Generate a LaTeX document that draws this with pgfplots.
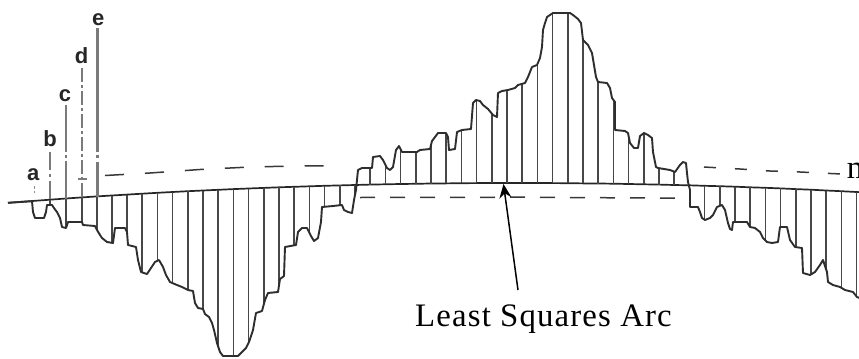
\documentclass[border=0pt]{standalone}
\usepackage{pgfplots}
\pgfplotsset{compat=1.18}
\usepackage{pgfplotstable}
\usepackage{fontspec}
\setmainfont{Liberation Serif}
\newfontfamily\labelfont{Liberation Sans}
\newfontfamily\arcfont[LetterSpace=3.5]{Liberation Serif}
\usetikzlibrary{arrows.meta}

% Measured surface profile (x along the trace, y = height, screen units, downward positive)
\pgfplotstableread{
x y
8 202.8
32 201.2
33 212
35 218
44 218
46 212
47 205
52 205
54 208
57 212
60 218
62 227
66 228
68 222
82 222
83 225
95 226
97 230
100 235
102 238
107 242
113 243
115 228
125 228
127 232
128 245
136 247
138 260
141 272
147 274
151 268
155 262
159 260
163 267
166 275
170 282
177 285
182 287
188 290
193 291
195 303
198 308
203 309
205 314
209 317
212 323
214 330
217 343
220 352
223 356
238 356
242 352
246 348
249 342
253 330
256 313
262 311
265 300
268 293
278 292
280 279
284 276
285 247
296 245
298 232
302 228
307 228
311 236
314 241
318 238
321 222
322 207
333 206
342 205
344 210
348 212
352 213
354 200
356 190
358 170
362 168
372 168
373 157
380 156
383 160
387 168
390 170
393 167
396 150
399 146
402 152
417 152
420 150
430 149
432 141
435 137
438 133
446 133
448 137
449 150
455 149
457 132
462 130
471 129
473 103
476 100
480 101
483 105
488 109
493 115
497 117
498 93
502 91
508 90
515 88
518 85
525 83
528 77
532 67
537 65
540 58
542 47
543 30
545 23
547 17
553 13
570 13
573 15
578 19
581 23
583 40
588 45
592 53
594 65
596 77
598 82
607 83
610 88
612 98
615 102
615 130
625 131
628 133
630 143
634 148
638 148
640 136
644 133
648 135
652 138
653 152
656 167
658 168
670 170
675 172
680 165
683 162
686 163
687 173
688 182
690 190
690 207
698 207
700 212
702 218
705 220
710 218
713 215
717 207
722 205
725 210
728 223
730 229
732 230
733 222
747 222
750 227
755 228
760 232
763 238
767 242
772 243
778 242
780 227
787 227
790 240
795 247
802 248
803 273
810 275
815 272
820 265
823 260
827 272
828 282
833 285
840 287
845 290
853 292
857 297
862 299
}\profile

% Ordinates: from the least squares arc (base) to the profile (top)
\pgfplotstableread{
x base top
50 199.7 205
66 198.5 227.6
82 197.4 222
97 196.4 230
111.8 195.5 242.8
127 194.6 232
142.2 193.7 272.4
157.4 192.8 260.8
172.6 192.0 283.1
187.8 191.2 289.9
203.0 190.5 309
218.2 189.8 346.6
233.4 189.1 356
248.6 188.5 342.8
263.8 187.9 304.4
279.0 187.3 285.5
294.2 186.8 245.3
309.4 186.3 232.8
324.6 185.8 206.8
339.8 185.4 205.2
355.0 185.0 195
370.2 184.6 168
385.4 184.3 164.8
400.6 184.0 149.2
415.8 183.8 152
431.0 183.5 145
446.2 183.4 133.4
461.4 183.2 130.2
476.6 183.1 100.2
491.8 183.0 113.6
507.0 183.0 90.2
522.2 183.0 83.6
537.4 183.0 64
552.6 183.1 13
567.8 183.2 13
583.0 183.4 40
598.2 183.5 82
613.4 183.7 100
628.6 184.0 136
643.8 184.3 133
659.0 184.6 168.2
674.2 185.0 171.7
689.4 185.3 187.6
704.6 185.8 219.7
719.8 186.2 205.9
735.0 186.7 222
750.2 187.3 227
765.4 187.8 240.4
780.6 188.4 227
795.8 189.1 247.1
811.0 189.7 274.4
826.2 190.5 269.6
841.4 191.2 287.8
856.6 192.0 296.5
}\ordinates

\begin{document}
\begin{tikzpicture}
\begin{axis}[
  width=429.5pt, height=179.5pt, scale only axis,
  xmin=0, xmax=859, ymin=0, ymax=359, y dir=reverse,
  hide axis, clip=false,
]
% least squares arc
\addplot[black!85, line width=0.85pt, mark=none] coordinates {
  (8,202.8) (50,199.7) (66,198.5) (82,197.4) (97,196.4) (111.8,195.5) (127,194.6)
  (142.2,193.7) (157.4,192.8) (172.6,192.0) (187.8,191.2) (203,190.5) (218.2,189.8)
  (233.4,189.1) (248.6,188.5) (263.8,187.9) (279,187.3) (294.2,186.8) (309.4,186.3)
  (324.6,185.8) (339.8,185.4) (355,185.0) (370.2,184.6) (385.4,184.3) (400.6,184.0)
  (415.8,183.8) (431,183.5) (446.2,183.4) (461.4,183.2) (476.6,183.1) (491.8,183.0)
  (507,183.0) (522.2,183.0) (537.4,183.0) (552.6,183.1) (567.8,183.2) (583,183.4)
  (598.2,183.5) (613.4,183.7) (628.6,184.0) (643.8,184.3) (659,184.6) (674.2,185.0)
  (689.4,185.3) (704.6,185.8) (719.8,186.2) (735,186.7) (750.2,187.3) (765.4,187.8)
  (780.6,188.4) (795.8,189.1) (811,189.7) (826.2,190.5) (841.4,191.2) (856.6,192.0)
  (862,192.3)};
% ordinates
\addplot[black!72, line width=0.8pt, mark=none,
  quiver={u=0, v=\thisrow{top}-\thisrow{base}}] table[x=x, y=base] {\ordinates};
% profile
\addplot[black!82, line width=0.95pt, mark=none, line join=round] table[x=x, y=y] {\profile};
% mean lines of peaks and valleys
\addplot[black!78, line width=0.75pt, mark=none, dash pattern=on 9.5pt off 10.5pt]
  coordinates {(105,175.5) (150,173) (200,169.5) (240,167.5) (280,166.3) (328,165.7)};
\addplot[black!78, line width=0.75pt, mark=none, dash pattern=on 6pt off 9.5pt]
  coordinates {(704,167) (740,169) (770,171) (800,172) (841,174)};
\addplot[black!78, line width=0.75pt, mark=none, dash pattern=on 7.5pt off 7.5pt]
  coordinates {(360,197.5) (520,197.2) (678,198.2)};
% height markers a--e
\addplot[black!45, line width=0.9pt, mark=none, dash pattern=on 1.5pt off 1pt]
  coordinates {(34.5,186) (34.5,193)};
\addplot[black!52, line width=1.05pt, mark=none, dash pattern=on 9pt off 2pt on 1.5pt off 2pt]
  coordinates {(50,152) (50,200)};
\addplot[black!52, line width=1.05pt, mark=none, dash pattern=on 23.5pt off 1.5pt on 1.5pt off 1.5pt]
  coordinates {(66,105) (66,199)};
\addplot[black!52, line width=1.05pt, mark=none, dash pattern=on 7pt off 1.5pt on 1.5pt off 1.5pt]
  coordinates {(82,68) (82,198)};
\addplot[black!52, line width=0.9pt, mark=none] coordinates {(78,179) (87,179)};
\addplot[black!52, line width=1.05pt, mark=none, dash pattern=on 62pt off 1.5pt on 1.5pt off 2pt]
  coordinates {(97.5,28) (97.5,197)};
\node[font=\labelfont\bfseries\fontsize{11}{12}\selectfont, text=black!85, anchor=base] at (axis cs:33.3,180) {a};
\node[font=\labelfont\bfseries\fontsize{11}{12}\selectfont, text=black!85, anchor=base] at (axis cs:50,146.7) {b};
\node[font=\labelfont\bfseries\fontsize{11}{12}\selectfont, text=black!85, anchor=base] at (axis cs:65,101.7) {c};
\node[font=\labelfont\bfseries\fontsize{11}{12}\selectfont, text=black!85, anchor=base] at (axis cs:81.7,63.3) {d};
\node[font=\labelfont\bfseries\fontsize{11}{12}\selectfont, text=black!85, anchor=base] at (axis cs:98.3,25) {e};
% annotation
\addplot[black, line width=0.75pt, mark=none, -{Stealth[length=7pt, width=6pt]}]
  coordinates {(518,290) (503.5,184)};
\node[font=\arcfont\fontsize{16.4}{19}\selectfont, anchor=base] at (axis cs:543.5,326.7) {Least Squares Arc};
\node[font=\fontsize{16.4}{19}\selectfont, anchor=base west, inner sep=0pt] at (axis cs:846.5,178.3) {m};
\end{axis}
\pgfresetboundingbox
\path[use as bounding box] (current axis.south west) rectangle (current axis.north east);
\end{tikzpicture}
\end{document}
